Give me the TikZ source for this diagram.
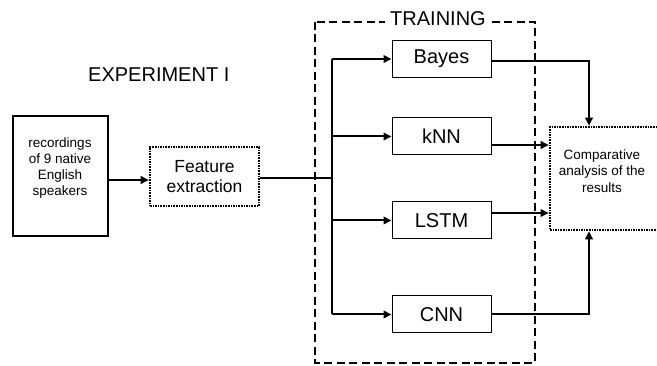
\documentclass[tikz,border=0pt]{standalone}
\usepackage{fontspec}
\setmainfont{Liberation Sans}
\usetikzlibrary{arrows.meta}
\begin{document}
\begin{tikzpicture}[x=1pt,y=-1pt,
  conn/.style={line width=2pt,-{Triangle[length=8pt,width=7.5pt]}},
  thinconn/.style={line width=1.2pt,-{Triangle[length=8pt,width=7.5pt]}},
  model/.style={draw,line width=1pt,minimum width=99pt,minimum height=37pt,inner sep=0pt,font=\fontsize{20}{24}\selectfont},
  dotbox/.style={draw,line width=2.6pt,dash pattern=on 1.6pt off 1pt,inner sep=0pt},
  small/.style={font=\fontsize{13.5}{16.3}\selectfont,align=center}]
\clip (0,0) rectangle (657,366);
\fill[white] (0,0) rectangle (657,366);
% title
\node[anchor=west,font=\fontsize{20}{24}\selectfont,inner sep=0pt] (exp) at (88,75) {EXPERIMENT I};
% training frame
\draw[line width=2.2pt,dash pattern=on 8pt off 4.5pt] (315,22) rectangle (535,363);
\node[fill=white,inner xsep=5pt,inner ysep=1pt,font=\fontsize{20}{24}\selectfont] (train) at (438,19) {TRAINING};
% input
\node[draw,line width=2.5pt,minimum width=95pt,minimum height=120pt,inner sep=0pt] (rec) at (60.5,176) {};
\node[small] (rect) at (60,168) {recordings\\of 9 native\\English\\speakers};
\node[dotbox,minimum width=109pt,minimum height=59pt,font=\fontsize{17.5}{20.5}\selectfont,align=center] (feat) at (204.5,176.5) {Feature\\extraction};
% models
\node[model] (bayes) at (441.5,59) {Bayes};
\node[model] (knn) at (441.5,136.5) {kNN};
\node[model] (lstm) at (441.5,220.5) {LSTM};
\node[model] (cnn) at (441.5,314.5) {CNN};
% comparative
\node[dotbox,minimum width=110pt,minimum height=103pt] (comp) at (605,178.5) {};
\node[small] (compt) at (602,171) {Comparative\\analysis of the\\results};
% connectors
\coordinate (br) at (332,178);
\draw[conn] (rec.east |- 0,180) -- (feat.west |- 0,180);
\draw[line width=2pt] (feat.east |- br) -- (br);
\draw[line width=2pt] (br |- bayes.west) -- (br |- cnn.west);
\draw[conn] (br |- bayes.west) -- (bayes.west);
\draw[conn] (br |- knn.west) -- (knn.west);
\draw[conn] (br |- lstm.west) -- (lstm.west);
\draw[conn] (br |- cnn.west) -- (cnn.west);
\draw[conn] (bayes.east |- 0,61) -| ([xshift=-16pt]comp.north);
\draw[conn] ([yshift=-8.5pt]knn.east) -- (comp.west |- 0,145);
\draw[thinconn] ([yshift=7.5pt]lstm.east) -- (comp.west |- 0,213);
\draw[conn] (cnn.east) -| ([xshift=-16pt]comp.south);
\end{tikzpicture}
\end{document}
